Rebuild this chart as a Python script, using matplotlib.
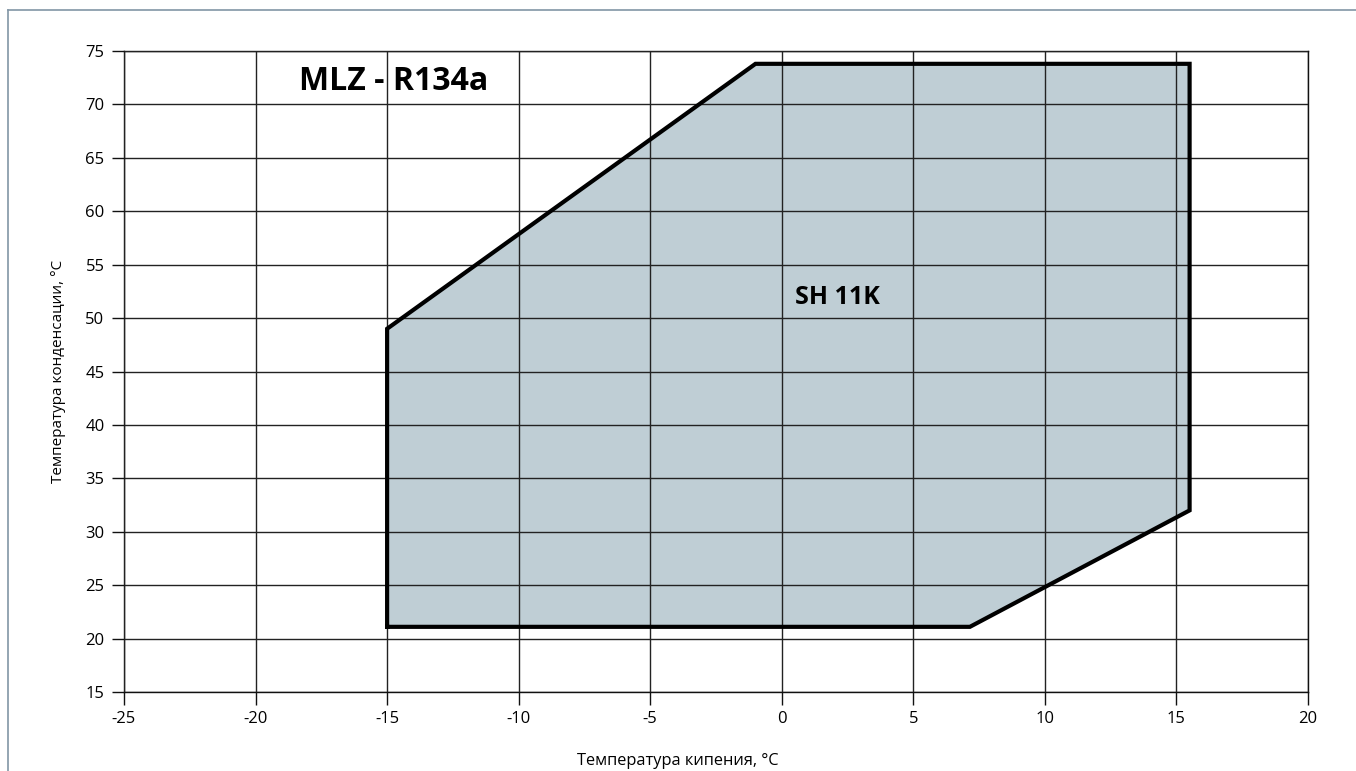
import matplotlib
matplotlib.use('Agg')
import matplotlib.pyplot as plt
from matplotlib.lines import Line2D

# Operating envelope, MLZ compressor on R134a (SH 11K)
evap_temp = [-15, -15, -1, 15.5, 15.5, 7.15]
cond_temp = [21.1, 49, 73.8, 73.8, 32, 21.1]

x_ticks = list(range(-25, 21, 5))
y_ticks = list(range(15, 76, 5))

plt.rcParams['font.family'] = ['Open Sans', 'DejaVu Sans']
plt.rcParams['axes.unicode_minus'] = False

fig = plt.figure(figsize=(13.56, 7.71), dpi=100)
ax = fig.add_axes([124 / 1356, 1 - 692 / 771, 1184 / 1356, 641 / 771])

# envelope fill, grid on top, outline above everything
ax.fill(evap_temp, cond_temp, color='#bfced5', zorder=1, linewidth=0)
ax.set_xlim(-25, 20)
ax.set_ylim(15, 75)
ax.set_xticks(x_ticks)
ax.set_yticks(y_ticks)
ax.grid(True, color='#222222', linewidth=1.0, zorder=2)
ax.set_axisbelow(False)
ax.plot(evap_temp + evap_temp[:1], cond_temp + cond_temp[:1],
        color='black', linewidth=3.0, solid_joinstyle='miter', zorder=3)

for side in ['top', 'right', 'left', 'bottom']:
    ax.spines[side].set_color('#111111')
    ax.spines[side].set_linewidth(1.0)

ax.tick_params(axis='both', length=9, width=1.0, color='#111111',
               labelsize=12, pad=5)
ax.set_xlabel('Температура кипения, °C', fontsize=11.8)
ax.xaxis.set_label_coords(0.468, -0.095)
ax.set_ylabel('Температура конденсации, °C', fontsize=11, labelpad=14)

ax.text(-18.35, 72.1, 'MLZ - R134a', fontsize=23, fontweight='bold',
        va='center', ha='left', zorder=4)
ax.text(0.5, 51.9, 'SH 11K', fontsize=18, fontweight='bold',
        va='center', ha='left', zorder=4)

# thin outer frame at top and left
frame_color = '#8296a6'
fig.add_artist(Line2D([8 / 1356, 1], [1 - 10 / 771, 1 - 10 / 771],
                      color=frame_color, linewidth=1.2))
fig.add_artist(Line2D([8 / 1356, 8 / 1356], [0, 1 - 10 / 771],
                      color=frame_color, linewidth=1.2))

fig.savefig('out.png', dpi=100)
